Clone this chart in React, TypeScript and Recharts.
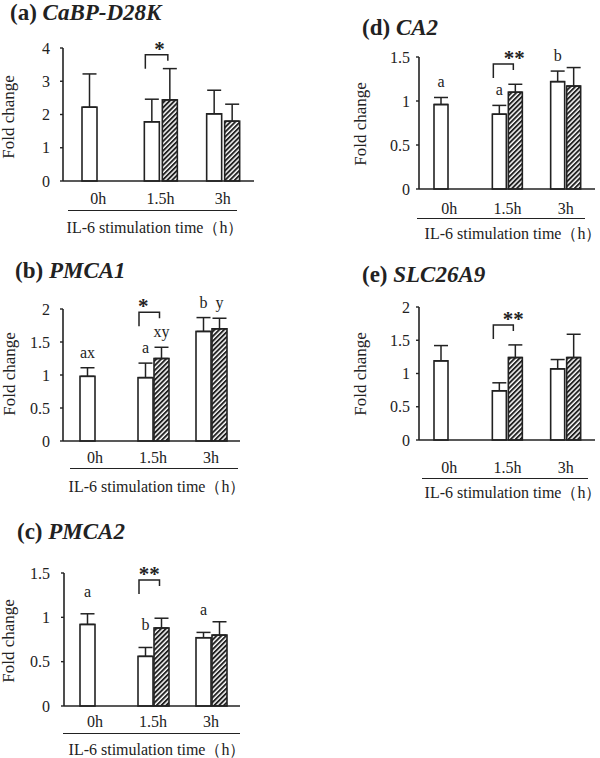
import React from 'react';
import { BarChart, Bar, XAxis, YAxis, ErrorBar } from 'recharts';

const categories = ['0h', '1.5h', '3h'];

// (a) CaBP-D28K
const cabpControl = [2.22, 1.78, 2.02];
const cabpControlSd = [1.0, 0.68, 0.71];
const cabpIl6 = [null, 2.44, 1.8];
const cabpIl6Sd = [null, 0.94, 0.51];
const cabpControlLetters = ['', '', ''];
const cabpIl6Letters = ['', '', ''];
const cabpSig = ['', '*', ''];

// (b) PMCA1
const pmca1Control = [0.98, 0.96, 1.66];
const pmca1ControlSd = [0.13, 0.22, 0.21];
const pmca1Il6 = [null, 1.25, 1.7];
const pmca1Il6Sd = [null, 0.17, 0.16];
const pmca1ControlLetters = ['ax', 'a', 'b'];
const pmca1Il6Letters = ['', 'xy', 'y'];
const pmca1Sig = ['', '*', ''];

// (c) PMCA2
const pmca2Control = [0.92, 0.56, 0.77];
const pmca2ControlSd = [0.12, 0.1, 0.06];
const pmca2Il6 = [null, 0.88, 0.8];
const pmca2Il6Sd = [null, 0.11, 0.15];
const pmca2ControlLetters = ['a', 'b', 'a'];
const pmca2Il6Letters = ['', '', ''];
const pmca2Sig = ['', '**', ''];

// (d) CA2
const ca2Control = [0.96, 0.85, 1.22];
const ca2ControlSd = [0.08, 0.1, 0.12];
const ca2Il6 = [null, 1.1, 1.17];
const ca2Il6Sd = [null, 0.09, 0.21];
const ca2ControlLetters = ['a', 'a', 'b'];
const ca2Il6Letters = ['', '', ''];
const ca2Sig = ['', '**', ''];

// (e) SLC26A9
const slcControl = [1.19, 0.74, 1.07];
const slcControlSd = [0.23, 0.12, 0.14];
const slcIl6 = [null, 1.24, 1.24];
const slcIl6Sd = [null, 0.19, 0.35];
const slcControlLetters = ['', '', ''];
const slcIl6Letters = ['', '', ''];
const slcSig = ['', '**', ''];

const SERIF = '"Liberation Serif", "Times New Roman", serif';
const INK = '#222';

type Layout = {
  left: number; top: number; axisX: number; axisEnd: number; yTop: number; yZero: number;
  barSize: number; barGap: number; padLeft: number; xTickMargin: number; yTickMargin: number;
  letterGap: number; starDx: number;
  titleX: number; titleY: number; foldX: number; foldY: number;
  lineY: number; lineX1: number; lineX2: number; xTitleX: number; xTitleY: number;
};

type Panel = {
  id: string; tag: string; gene: string;
  ctrl: number[]; ctrlSd: number[]; il6: (number | null)[]; il6Sd: (number | null)[];
  ctrlLetters: string[]; il6Letters: string[]; sig: string[];
  bracketLevel: number; yMax: number; yTicks: number[];
  layout: Layout;
};

const panels: Panel[] = [
  {
    id: 'a', tag: '(a)', gene: 'CaBP-D28K',
    ctrl: cabpControl, ctrlSd: cabpControlSd, il6: cabpIl6, il6Sd: cabpIl6Sd,
    ctrlLetters: cabpControlLetters, il6Letters: cabpIl6Letters, sig: cabpSig,
    bracketLevel: 3.8, yMax: 4, yTicks: [0, 1, 2, 3, 4],
    layout: {
      left: 0, top: 0, axisX: 63, axisEnd: 254, yTop: 48, yZero: 181,
      barSize: 15, barGap: 3, padLeft: 4, xTickMargin: 6, yTickMargin: 10,
      letterGap: 10, starDx: 3,
      titleX: 10, titleY: 13, foldX: 8, foldY: 117,
      lineY: 211, lineX1: 68, lineX2: 237, xTitleX: 155, xTitleY: 227,
    },
  },
  {
    id: 'b', tag: '(b)', gene: 'PMCA1',
    ctrl: pmca1Control, ctrlSd: pmca1ControlSd, il6: pmca1Il6, il6Sd: pmca1Il6Sd,
    ctrlLetters: pmca1ControlLetters, il6Letters: pmca1Il6Letters, sig: pmca1Sig,
    bracketLevel: 1.95, yMax: 2, yTicks: [0, 0.5, 1, 1.5, 2],
    layout: {
      left: 0, top: 240, axisX: 63, axisEnd: 240, yTop: 309, yZero: 441,
      barSize: 15, barGap: 1, padLeft: 3, xTickMargin: 5, yTickMargin: 10,
      letterGap: 10, starDx: -6,
      titleX: 15, titleY: 271, foldX: 9, foldY: 374,
      lineY: 469, lineX1: 70, lineX2: 238, xTitleX: 157, xTitleY: 486,
    },
  },
  {
    id: 'c', tag: '(c)', gene: 'PMCA2',
    ctrl: pmca2Control, ctrlSd: pmca2ControlSd, il6: pmca2Il6, il6Sd: pmca2Il6Sd,
    ctrlLetters: pmca2ControlLetters, il6Letters: pmca2Il6Letters, sig: pmca2Sig,
    bracketLevel: 1.42, yMax: 1.5, yTicks: [0, 0.5, 1, 1.5],
    layout: {
      left: 0, top: 500, axisX: 64, axisEnd: 240, yTop: 573, yZero: 706,
      barSize: 15, barGap: 1, padLeft: 2, xTickMargin: 4, yTickMargin: 11,
      letterGap: 17, starDx: 0,
      titleX: 17, titleY: 532, foldX: 8, foldY: 641,
      lineY: 734, lineX1: 63, lineX2: 240, xTitleX: 157, xTitleY: 749,
    },
  },
  {
    id: 'd', tag: '(d)', gene: 'CA2',
    ctrl: ca2Control, ctrlSd: ca2ControlSd, il6: ca2Il6, il6Sd: ca2Il6Sd,
    ctrlLetters: ca2ControlLetters, il6Letters: ca2Il6Letters, sig: ca2Sig,
    bracketLevel: 1.42, yMax: 1.5, yTicks: [0, 0.5, 1, 1.5],
    layout: {
      left: 300, top: 0, axisX: 419, axisEnd: 595, yTop: 57, yZero: 189,
      barSize: 14, barGap: 2, padLeft: 1, xTickMargin: 8, yTickMargin: 6,
      letterGap: 10, starDx: 11,
      titleX: 362, titleY: 28, foldX: 360, foldY: 124,
      lineY: 219, lineX1: 417, lineX2: 585, xTitleX: 513, xTitleY: 233,
    },
  },
  {
    id: 'e', tag: '(e)', gene: 'SLC26A9',
    ctrl: slcControl, ctrlSd: slcControlSd, il6: slcIl6, il6Sd: slcIl6Sd,
    ctrlLetters: slcControlLetters, il6Letters: slcIl6Letters, sig: slcSig,
    bracketLevel: 1.73, yMax: 2, yTicks: [0, 0.5, 1, 1.5, 2],
    layout: {
      left: 300, top: 240, axisX: 419, axisEnd: 595, yTop: 307, yZero: 440,
      barSize: 14, barGap: 2, padLeft: 1, xTickMargin: 16, yTickMargin: 6,
      letterGap: 10, starDx: 10,
      titleX: 362, titleY: 275, foldX: 360, foldY: 374,
      lineY: 479, lineX1: 422, lineX2: 588, xTitleX: 513, xTitleY: 492,
    },
  },
];

function makeShape(p: Panel, series: 'ctrl' | 'il6') {
  return (props: any) => {
    const { x, y, width, height } = props;
    const cat = props.payload?.cat ?? props.cat;
    const index = cat != null ? categories.indexOf(cat) : props.index;
    const v = series === 'ctrl' ? p.ctrl[index] : p.il6[index];
    if (v == null || !height) return <g />;
    const sd = (series === 'ctrl' ? p.ctrlSd[index] : p.il6Sd[index]) ?? 0;
    const k = height / v;
    const base = y + height;
    const errTop = y - sd * k;
    const letter = (series === 'ctrl' ? p.ctrlLetters : p.il6Letters)[index];
    const mark = series === 'il6' ? p.sig[index] : '';
    const fill = series === 'ctrl' ? '#fff' : `url(#hatch-${p.id})`;
    let bracket = null;
    if (mark) {
      const bt = base - p.bracketLevel * k;
      const lx = x - p.layout.barGap - width + 1;
      const rx = x + width / 2 - 2;
      bracket = (
        <g>
          <path d={`M${lx},${bt + 14} V${bt} H${rx} V${bt + 6}`} fill="none" stroke={INK} strokeWidth={1.5} />
          <text x={(lx + rx) / 2 + p.layout.starDx} y={bt + 1} textAnchor="middle" fontFamily={SERIF} fontSize={21} fontWeight="bold" fill={INK}>
            {mark}
          </text>
        </g>
      );
    }
    return (
      <g>
        <rect x={x} y={y} width={width} height={height} fill={fill} stroke={INK} strokeWidth={1.6} />
        {letter ? (
          <text x={x + width / 2} y={errTop - p.layout.letterGap} textAnchor="middle" fontFamily={SERIF} fontSize={16} fill={INK}>
            {letter}
          </text>
        ) : null}
        {bracket}
      </g>
    );
  };
}

function FoldPanel({ p }: { p: Panel }) {
  const L = p.layout;
  const data = categories.map((cat, i) => ({
    cat,
    ctrl: p.ctrl[i],
    il6: p.il6[i],
    ctrlErr: [0, p.ctrlSd[i]],
    il6Err: p.il6Sd[i] == null ? null : [0, p.il6Sd[i]],
  }));
  const yAxisW = 40;
  const xAxisH = 42;
  const marginTop = L.yTop - L.top;
  const chartH = marginTop + (L.yZero - L.yTop) + xAxisH;
  const chartW = L.axisEnd - L.left + 4;
  const textStyle = { fontFamily: SERIF, color: INK, position: 'absolute' as const, whiteSpace: 'nowrap' as const };

  return (
    <>
      <div style={{ ...textStyle, left: L.titleX, top: L.titleY - 12, fontSize: 23, lineHeight: '24px', fontWeight: 'bold' }}>
        {p.tag} <i>{p.gene}</i>
      </div>
      <div
        style={{
          ...textStyle, left: L.foldX, top: L.foldY, fontSize: 17, lineHeight: '17px',
          transform: 'translate(-50%, -50%) rotate(-90deg)',
        }}
      >
        Fold change
      </div>
      <div style={{ position: 'absolute', left: L.lineX1, top: L.lineY - 1, width: L.lineX2 - L.lineX1, borderTop: `1.6px solid ${INK}` }} />
      <div style={{ ...textStyle, left: L.xTitleX, top: L.xTitleY, fontSize: 16, lineHeight: '17px', transform: 'translate(-50%, -50%)' }}>
        IL-6 stimulation time（h）
      </div>
      <div style={{ position: 'absolute', left: L.left, top: L.top }}>
        <BarChart
          width={chartW}
          height={chartH}
          data={data}
          margin={{ top: marginTop, right: 4, bottom: 0, left: L.axisX - L.left - yAxisW }}
          barSize={L.barSize}
          barGap={L.barGap}
        >
          <defs>
            <pattern id={`hatch-${p.id}`} patternUnits="userSpaceOnUse" width={3.4} height={3.4} patternTransform="rotate(45)">
              <rect width={3.4} height={3.4} fill="#fff" />
              <line x1={0.9} y1={0} x2={0.9} y2={3.4} stroke={INK} strokeWidth={2.1} />
            </pattern>
          </defs>
          <XAxis
            dataKey="cat"
            height={xAxisH}
            tickLine={false}
            axisLine={{ stroke: INK, strokeWidth: 1.6 }}
            tick={{ fontFamily: SERIF, fontSize: 16, fill: INK }}
            tickMargin={L.xTickMargin}
            padding={{ left: L.padLeft, right: 0 }}
          />
          <YAxis
            width={yAxisW}
            type="number"
            domain={[0, p.yMax]}
            ticks={p.yTicks}
            interval={0}
            tickSize={3}
            tickMargin={L.yTickMargin}
            tickLine={{ stroke: INK, strokeWidth: 1.4 }}
            axisLine={{ stroke: INK, strokeWidth: 1.6 }}
            tick={{ fontFamily: SERIF, fontSize: 16, fill: INK }}
          />
          <Bar dataKey="ctrl" isAnimationActive={false} shape={makeShape(p, 'ctrl')}>
            <ErrorBar dataKey="ctrlErr" width={7} stroke={INK} strokeWidth={1.5} />
          </Bar>
          <Bar dataKey="il6" isAnimationActive={false} shape={makeShape(p, 'il6')}>
            <ErrorBar dataKey="il6Err" width={7} stroke={INK} strokeWidth={1.5} />
          </Bar>
        </BarChart>
      </div>
    </>
  );
}

export default function App() {
  return (
    <div style={{ position: 'absolute', left: 0, top: 0, width: 600, height: 758, background: '#fff', overflow: 'hidden' }}>
      {panels.map((p) => (
        <FoldPanel key={p.id} p={p} />
      ))}
    </div>
  );
}
